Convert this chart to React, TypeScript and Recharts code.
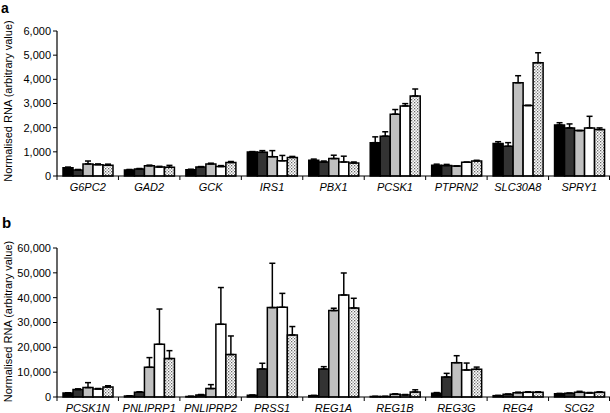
import React from 'react';
import { BarChart, Bar, XAxis, YAxis, ErrorBar } from 'recharts';

// Panel a
const genesA = ['G6PC2', 'GAD2', 'GCK', 'IRS1', 'PBX1', 'PCSK1', 'PTPRN2', 'SLC30A8', 'SPRY1'];
const a1 = [340, 250, 260, 990, 650, 1380, 440, 1340, 2110];
const a2 = [250, 290, 370, 980, 580, 1650, 430, 1230, 1990];
const a3 = [500, 420, 500, 800, 720, 2560, 410, 3860, 1880];
const a4 = [470, 370, 390, 630, 580, 2900, 570, 2920, 1990];
const a5 = [450, 360, 560, 770, 540, 3310, 620, 4690, 1920];
const a1e = [30, 20, 20, 20, 50, 240, 50, 80, 95];
const a2e = [20, 20, 20, 70, 40, 180, 50, 150, 165];
const a3e = [120, 30, 30, 250, 140, 190, 0, 290, 0];
const a4e = [30, 30, 40, 220, 240, 95, 0, 0, 480];
const a5e = [40, 80, 40, 40, 40, 290, 30, 410, 70];
const ticksA = [0, 1000, 2000, 3000, 4000, 5000, 6000];

// Panel b
const genesB = ['PCSK1N', 'PNLIPRP1', 'PNLIPRP2', 'PRSS1', 'REG1A', 'REG1B', 'REG3G', 'REG4', 'SCG2'];
const b1 = [1600, 400, 200, 680, 540, 200, 1480, 540, 1340];
const b2 = [2980, 1900, 800, 11280, 11280, 200, 8050, 1070, 1480];
const b3 = [3780, 11960, 3380, 36000, 34800, 1070, 13830, 1740, 1880];
const b4 = [3220, 21220, 29280, 36130, 41080, 800, 10870, 1880, 1610];
const b5 = [4030, 15460, 17080, 24970, 35850, 2000, 11140, 1880, 1880];
const b1e = [100, 100, 100, 100, 100, 50, 300, 100, 100];
const b2e = [300, 200, 200, 2300, 940, 50, 1470, 100, 100];
const b3e = [2000, 3900, 1600, 17850, 940, 200, 2800, 200, 400];
const b4e = [200, 14200, 14800, 5600, 8860, 200, 2800, 200, 200];
const b5e = [500, 3200, 7500, 3400, 3900, 900, 900, 200, 200];
const ticksB = [0, 10000, 20000, 30000, 40000, 50000, 60000];

const build = (genes: string[], s: number[][], e: number[][]) =>
  genes.map((g, i) => ({
    gene: g,
    s1: s[0][i], s2: s[1][i], s3: s[2][i], s4: s[3][i], s5: s[4][i],
    e1: [0, e[0][i]], e2: [0, e[1][i]], e3: [0, e[2][i]], e4: [0, e[3][i]], e5: [0, e[4][i]],
  }));

const dataA = build(genesA, [a1, a2, a3, a4, a5], [a1e, a2e, a3e, a4e, a5e]);
const dataB = build(genesB, [b1, b2, b3, b4, b5], [b1e, b2e, b3e, b4e, b5e]);

const FONT = '"Liberation Sans", Arial, sans-serif';
const W = 610;
const LEFT = 57;
const RIGHT = 0;
const BAND = (W - LEFT - RIGHT) / 9;

const fills = ['#000000', '#333333', '#c0c0c0', '#ffffff', 'url(#dots)'];

const makeTick = (count: number, labelDy: number) => (props: any) => {
  const { x, y, payload, index } = props;
  const left = x - BAND / 2;
  return (
    <g>
      <line x1={left} y1={y} x2={left} y2={y + 4} stroke="#000" strokeWidth={1} />
      {index === count - 1 && (
        <line x1={x + BAND / 2 - 0.5} y1={y} x2={x + BAND / 2 - 0.5} y2={y + 4} stroke="#000" strokeWidth={1} />
      )}
      <text x={x} y={y + labelDy} textAnchor="middle" fontStyle="italic" fontSize={11} fontFamily={FONT} fill="#000">
        {payload.value}
      </text>
    </g>
  );
};

const fmt = (v: number) => v.toLocaleString('en-US');

const Panel = ({ data, ticks, max, height, top, labelDy }: any) => (
  <BarChart
    width={W}
    height={height}
    data={data}
    margin={{ top, right: RIGHT, bottom: 0, left: 0 }}
    barCategoryGap={6}
    barGap={0}
  >
    <defs>
      <pattern id="dots" width="3" height="3" patternUnits="userSpaceOnUse">
        <rect width="3" height="3" fill="#ffffff" />
        <rect x="0" y="0" width="1.3" height="1.3" fill="#666666" />
        <rect x="1.5" y="1.5" width="1.3" height="1.3" fill="#888888" />
      </pattern>
    </defs>
    <XAxis
      dataKey="gene"
      height={height === 200 ? 24 : 16}
      axisLine={{ stroke: '#000', strokeWidth: 1.2 }}
      tickLine={false}
      tickSize={0}
      tickMargin={0}
      interval={0}
      tick={makeTick(9, labelDy)}
    />
    <YAxis
      width={LEFT}
      domain={[0, max]}
      ticks={ticks}
      tickFormatter={fmt}
      axisLine={{ stroke: '#000', strokeWidth: 1.2 }}
      tickLine={{ stroke: '#000' }}
      tickSize={4}
      tickMargin={2}
      tick={{ fontSize: 11, fontFamily: FONT, fill: '#000' }}
      interval={0}
    />
    {[1, 2, 3, 4, 5].map((k) => (
      <Bar key={k} dataKey={`s${k}`} fill={fills[k - 1]} stroke="#000" strokeWidth={1.5} isAnimationActive={false}>
        <ErrorBar dataKey={`e${k}`} width={3} stroke="#000" strokeWidth={1.5} direction="y" />
      </Bar>
    ))}
  </BarChart>
);

const label = 'Normalised RNA (arbitrary value)';

export default function App() {
  return (
    <div style={{ position: 'absolute', left: 0, top: 0, width: 610, height: 413, background: '#fff' }}>
      <div style={{ position: 'absolute', left: 0, top: 0 }}>
        <Panel data={dataA} ticks={ticksA} max={6000} height={200} top={31} labelDy={15} />
      </div>
      <div style={{ position: 'absolute', left: 0, top: 200 }}>
        <Panel data={dataB} ticks={ticksB} max={60000} height={213} top={48} labelDy={15.3} />
      </div>
      <svg width={610} height={413} style={{ position: 'absolute', left: 0, top: 0, pointerEvents: 'none' }}>
        <text x={1} y={13} fontSize={14} fontWeight="bold" fontFamily={FONT} fill="#000">a</text>
        <text x={2} y={228} fontSize={15} fontWeight="bold" fontFamily={FONT} fill="#000">b</text>
        <text
          transform="translate(11.5,101) rotate(-90)"
          textAnchor="middle"
          fontSize={11}
          fontFamily={FONT}
          fill="#000"
        >
          {label}
        </text>
        <text
          transform="translate(11.5,321.5) rotate(-90)"
          textAnchor="middle"
          fontSize={11}
          fontFamily={FONT}
          fill="#000"
        >
          {label}
        </text>
      </svg>
    </div>
  );
}
